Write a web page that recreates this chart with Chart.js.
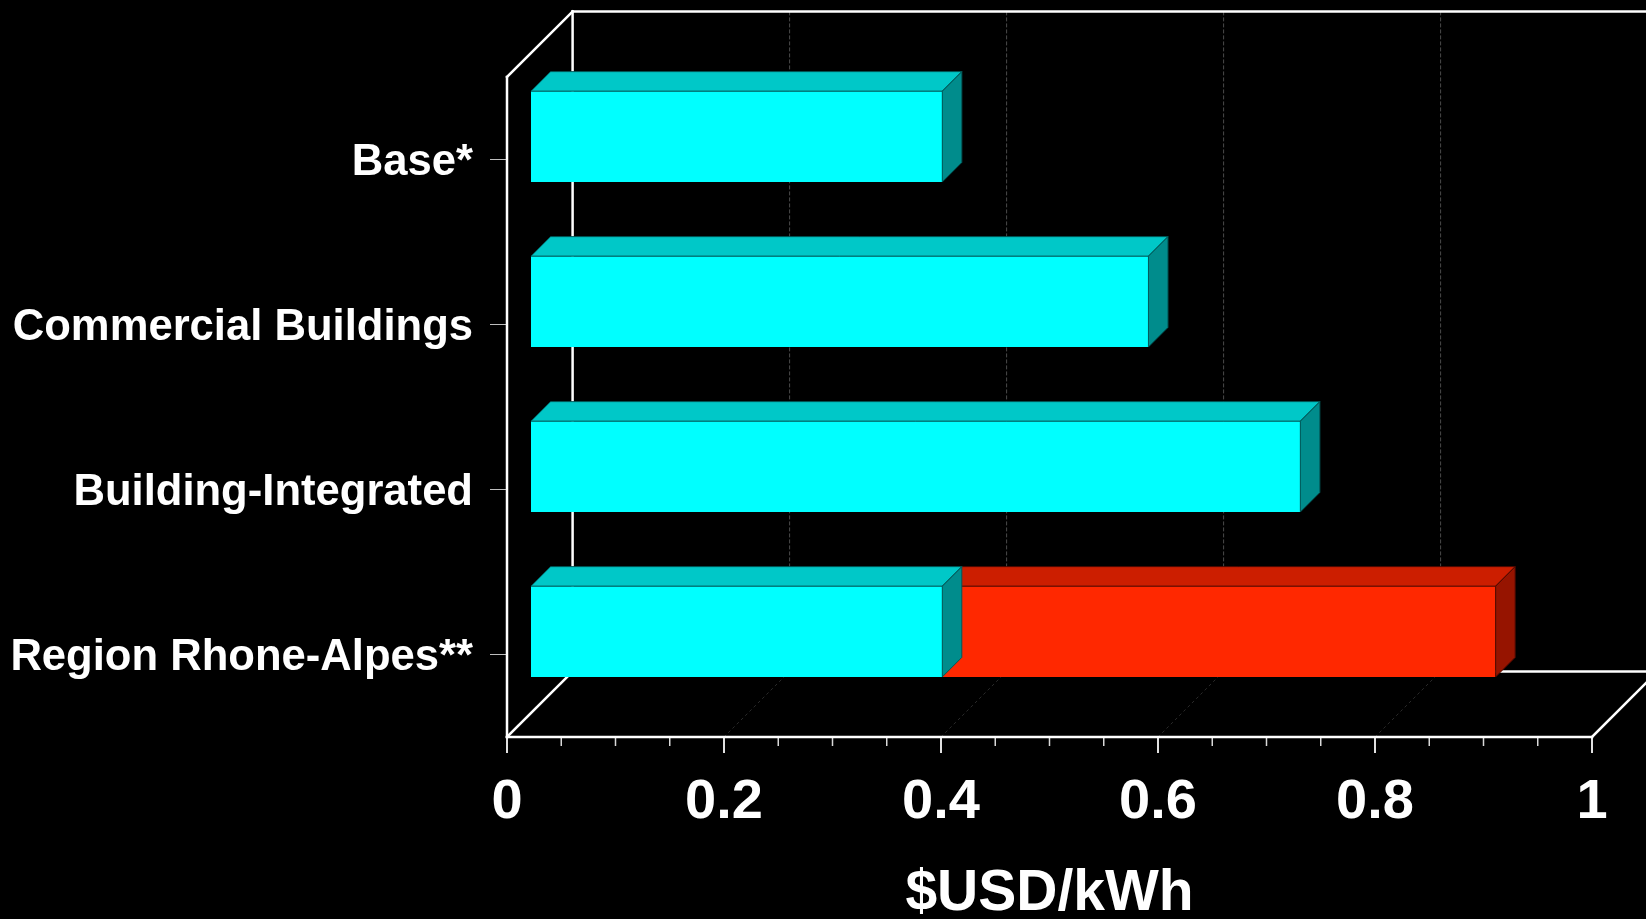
<!DOCTYPE html>
<html>
<head>
<meta charset="utf-8">
<script src="https://cdn.jsdelivr.net/npm/chart.js@4.4.1/dist/chart.umd.min.js"></script>
<style>
  html, body { margin: 0; padding: 0; background: #000; overflow: hidden; }
  #wrap { width: 1646px; height: 919px; position: relative; }
</style>
</head>
<body>
<div id="wrap"><canvas id="c" width="1646" height="919"></canvas></div>
<script>
// Cost of PV electricity, $USD/kWh
const categories = ['Base*', 'Commercial Buildings', 'Building-Integrated', 'Region Rhone-Alpes**'];
const baseCost = [0.38, 0.57, 0.71, 0.38];
const regionalPremium = [0, 0, 0, 0.51];
const xTickLabels = ['0', '0.2', '0.4', '0.6', '0.8', '1'];
const xMin = 0, xMax = 1, xMajorStep = 0.2, xMinorStep = 0.05;

// Oblique "3D" look
const WALL_DEPTH = 65.6;   // offset of the back wall behind the front plane
const BAR_SHIFT = 23;      // bars sit this far behind the front plane
const BAR_DEPTH = 19.5;    // thickness of each bar block

const FONT = '"Liberation Sans", Arial, Helvetica, sans-serif';

const faceColors = [
  { top: '#00C8C8', side: '#008C8C', edge: '#005a5a' },
  { top: '#CC1E00', side: '#961400', edge: '#500a00' }
];

function line(ctx, x1, y1, x2, y2) {
  ctx.beginPath();
  ctx.moveTo(x1, y1);
  ctx.lineTo(x2, y2);
  ctx.stroke();
}

const box3d = {
  id: 'box3d',
  beforeDatasetsDraw(chart) {
    const { ctx, chartArea: a, scales: { x } } = chart;
    const d = WALL_DEPTH;
    ctx.save();
    // floor grid (diagonals) and back-wall grid (verticals)
    for (let v = xMin + xMajorStep; v < xMax + 1e-9; v += xMajorStep) {
      const px = x.getPixelForValue(v);
      ctx.strokeStyle = '#2a2a2a';
      ctx.lineWidth = 1;
      ctx.setLineDash([3, 3]);
      line(ctx, px, a.bottom, px + d, a.bottom - d);
      ctx.strokeStyle = '#4a4a4a';
      ctx.setLineDash([4, 2]);
      line(ctx, px + d, a.top - d, px + d, a.bottom - d);
    }
    ctx.setLineDash([]);
    // minor ticks under the floor
    ctx.strokeStyle = '#d8d8d8';
    ctx.lineWidth = 1.5;
    for (let v = xMin; v <= xMax + 1e-9; v += xMinorStep) {
      const r = Math.round(v / xMajorStep * 1000) / 1000;
      if (Math.abs(r - Math.round(r)) < 1e-6) continue;
      const px = x.getPixelForValue(v);
      line(ctx, px, a.bottom, px, a.bottom + 9);
    }
    // frame
    ctx.strokeStyle = '#ffffff';
    ctx.lineWidth = 2.5;
    ctx.lineCap = 'square';
    const L = a.left, R = a.right, T = a.top, B = a.bottom;
    line(ctx, L + d, T - d, L + d, B - d);          // back wall left edge
    line(ctx, L + d, T - d, R + d, T - d);          // back wall top edge
    line(ctx, L + d, B - d, R + d, B - d);          // floor back edge
    line(ctx, L, T, L + d, T - d);                  // side wall top
    line(ctx, L, B, L + d, B - d);                  // side wall bottom
    line(ctx, L, T, L, B);                          // front vertical
    line(ctx, L, B, R, B);                          // floor front edge
    line(ctx, R, B, R + d, B - d);                  // floor right edge
    ctx.restore();
    // shift the bars back into the box
    ctx.save();
    ctx.translate(BAR_SHIFT, -BAR_SHIFT);
  },
  afterDatasetDraw(chart, args) {
    const { ctx } = chart;
    const c = faceColors[args.index];
    const dd = BAR_DEPTH;
    args.meta.data.forEach(el => {
      const p = el.getProps(['x', 'y', 'base', 'height'], true);
      const l = Math.min(p.x, p.base), r = Math.max(p.x, p.base);
      if (r - l < 0.5) return;
      const t = p.y - p.height / 2, b = p.y + p.height / 2;
      ctx.save();
      ctx.lineWidth = 1;
      ctx.strokeStyle = c.edge;
      // top face
      ctx.fillStyle = c.top;
      ctx.beginPath();
      ctx.moveTo(l, t);
      ctx.lineTo(l + dd, t - dd);
      ctx.lineTo(r + dd, t - dd);
      ctx.lineTo(r, t);
      ctx.closePath();
      ctx.fill();
      ctx.stroke();
      // right side face
      ctx.fillStyle = c.side;
      ctx.beginPath();
      ctx.moveTo(r, t);
      ctx.lineTo(r + dd, t - dd);
      ctx.lineTo(r + dd, b - dd);
      ctx.lineTo(r, b);
      ctx.closePath();
      ctx.fill();
      ctx.stroke();
      ctx.restore();
    });
  },
  afterDatasetsDraw(chart) {
    chart.ctx.restore();
  }
};

new Chart(document.getElementById('c'), {
  type: 'bar',
  data: {
    labels: categories,
    datasets: [
      { data: baseCost, backgroundColor: '#00FFFF', borderWidth: 0, clip: false },
      { data: regionalPremium, backgroundColor: '#FF2800', borderWidth: 0, clip: false }
    ]
  },
  options: {
    indexAxis: 'y',
    responsive: false,
    animation: false,
    events: [],
    barPercentage: 0.55,
    categoryPercentage: 1,
    layout: { padding: { top: 77, right: 54, left: 0, bottom: 0 } },
    plugins: { legend: { display: false }, tooltip: { enabled: false } },
    scales: {
      x: {
        type: 'linear',
        min: xMin,
        max: xMax,
        stacked: true,
        afterFit(s) { s.height = 182; },
        afterBuildTicks(s) {
          s.ticks = xTickLabels.map((_, i) => ({ value: xMin + i * xMajorStep }));
        },
        border: { display: false },
        grid: { drawOnChartArea: false, drawTicks: true, tickLength: 16, color: '#e0e0e0', lineWidth: 2 },
        ticks: {
          color: '#ffffff',
          padding: 16,
          maxRotation: 0,
          font: { family: FONT, size: 56, weight: 'bold' },
          callback(v, i) { return xTickLabels[i]; }
        },
        title: {
          display: true,
          text: '$USD/kWh',
          color: '#ffffff',
          font: { family: FONT, size: 57, weight: 'bold', lineHeight: 1 },
          padding: { top: 0, bottom: -4 }
        }
      },
      y: {
        type: 'category',
        stacked: true,
        afterFit(s) { s.width = 507; },
        border: { display: false },
        grid: { drawOnChartArea: false, drawTicks: true, tickLength: 17, color: '#bdbdbd', lineWidth: 1, offset: false },
        ticks: {
          color: '#ffffff',
          padding: 17,
          labelOffset: 3,
          font: { family: FONT, size: 43.6, weight: 'bold' }
        }
      }
    }
  },
  plugins: [box3d]
});
</script>
</body>
</html>
